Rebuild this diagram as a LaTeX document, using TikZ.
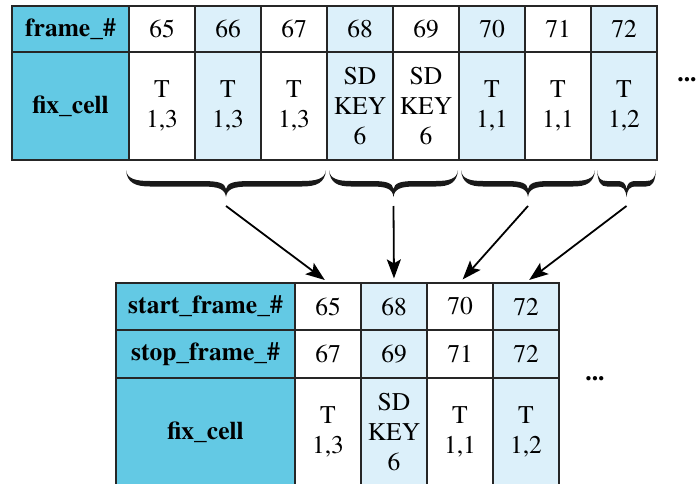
\documentclass[tikz,border=0pt]{standalone}
\usepackage{fontspec}
\setmainfont{texgyretermes}[Extension=.otf, UprightFont=*-regular, BoldFont=*-bold]
\usetikzlibrary{arrows.meta}
\definecolor{hdrblue}{RGB}{99,201,228}
\definecolor{cellblue}{RGB}{220,240,250}

\begin{document}
\begin{tikzpicture}[x=1pt, y=-1pt, every node/.style={font=\rmfamily\fontsize{25.5}{30}\selectfont},
	cell/.style={draw=black!85, line width=1.2pt, inner sep=0pt, minimum width=66pt, align=center},
	hdr/.style={cell, fill=hdrblue, font=\rmfamily\fontsize{25.5}{30}\selectfont\bfseries},
	flow/.style={-{Stealth[length=19pt, width=14pt, inset=4pt]}, line width=1.8pt, shorten >=4pt}]
\useasboundingbox (0,0) rectangle (698,484);
\clip (0,0) rectangle (698,484);
\node[hdr, minimum width=117pt, minimum height=46pt] (tfh) at (70.5,29) {frame\_\#};
\node[hdr, minimum width=117pt, minimum height=108pt] (tch) at (70.5,106) {fix\_cell};
\foreach \f/\fc/\txt [count=\k from 0] in {65/white/{T\\1,3}, 66/cellblue/{T\\1,3}, 67/white/{T\\1,3}, 68/cellblue/{SD\\KEY\\6}, 69/white/{SD\\KEY\\6}, 70/cellblue/{T\\1,1}, 71/white/{T\\1,1}, 72/cellblue/{T\\1,2}} {
	\node[cell, fill=\fc, minimum height=46pt] (fr\f) at ({162+66*\k},29) {\f};
	\node[cell, fill=\fc, minimum height=108pt] (fc\f) at ({162+66*\k},106) {\txt};
}
\node[anchor=base] (more1) at (687,82) {\textbf{...}};

% curly braces under the frame groups
\foreach \a/\b/\r [count=\i] in {126/326/24, 329/458/22, 461/595/22, 597/656/10} {
	\pgfmathsetmacro\m{(\a+\b)/2}
	\fill[black!90] (\a,170) .. controls ({\a+1},179) and ({\a+0.4*\r},181) .. ({\a+\r},181) -- ({\m-\r},181)
		.. controls ({\m-0.3*\r},181) and ({\m-1},183) .. (\m,189)
		.. controls ({\m+1},183) and ({\m+0.3*\r},181) .. ({\m+\r},181) -- ({\b-\r},181)
		.. controls ({\b-0.4*\r},181) and ({\b-1},179) .. (\b,170)
		.. controls ({\b-1},183) and ({\b-0.4*\r},186.5) .. ({\b-\r},186.5) -- ({\m+\r},186.5)
		.. controls ({\m+0.3*\r},186.5) and ({\m+1},189) .. (\m,197)
		.. controls ({\m-1},189) and ({\m-0.3*\r},186.5) .. ({\m-\r},186.5) -- ({\a+\r},186.5)
		.. controls ({\a+0.4*\r},186.5) and ({\a+1},183) .. (\a,170) -- cycle;
	\coordinate (g\i) at (\m,206);
}

\node[hdr, minimum width=179pt, minimum height=47pt] (bsh) at (205.5,306.5) {start\_frame\_\#};
\node[hdr, minimum width=179pt, minimum height=48pt] (bph) at (205.5,354) {stop\_frame\_\#};
\node[hdr, minimum width=179pt, minimum height=108pt] (bch) at (205.5,432) {fix\_cell};
\foreach \s/\e/\fc/\txt [count=\k from 0] in {65/67/white/{T\\1,3}, 68/69/cellblue/{SD\\KEY\\6}, 70/71/white/{T\\1,1}, 72/72/cellblue/{T\\1,2}} {
	\node[cell, fill=\fc, minimum height=47pt] (st\s) at ({328+66*\k},306.5) {\s};
	\node[cell, fill=\fc, minimum height=48pt] (sp\s) at ({328+66*\k},354) {\e};
	\node[cell, fill=\fc, minimum height=108pt] (sc\s) at ({328+66*\k},432) {\txt};
}
\node[anchor=base] (more2) at (595,380) {\textbf{...}};

\draw[flow] (g1) -- (st65.north);
\draw[flow] (g2) -- (st68.north);
\draw[flow] (g3) -- (st70.north);
\draw[flow] (g4) -- (st72.north);
\end{tikzpicture}
\end{document}
